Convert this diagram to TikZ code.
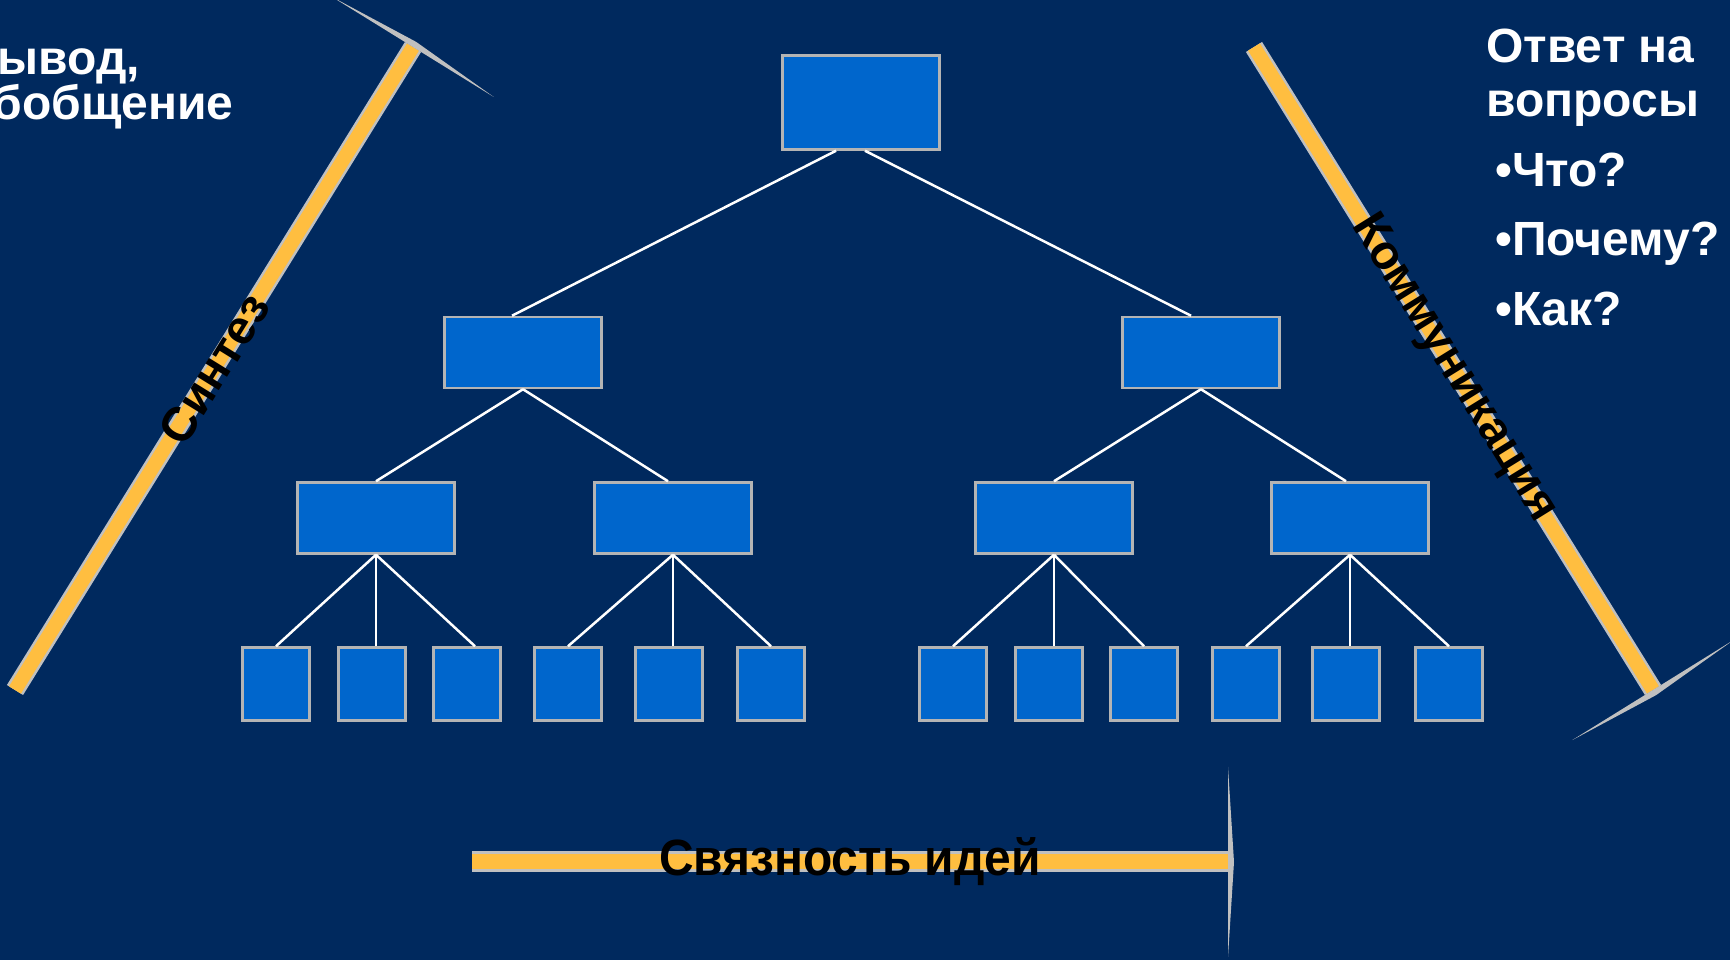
\documentclass[tikz,border=0pt]{standalone}
\usepackage{fontspec}
\setmainfont{Liberation Sans}
\usepackage{tikz}
\usetikzlibrary{positioning,calc}

\definecolor{bgblue}{RGB}{0,41,94}
\definecolor{boxfill}{RGB}{0,102,204}
\definecolor{boxline}{RGB}{180,180,180}
\definecolor{barfill}{RGB}{255,190,64}
\definecolor{barline}{RGB}{192,192,192}

\begin{document}
\begin{tikzpicture}[x=1pt, y=1pt,
    box/.style={rectangle, draw=boxline, fill=boxfill, line width=2.5pt, minimum width=157pt, minimum height=71pt, inner sep=0pt},
    leaf/.style={box, minimum width=67pt, minimum height=73pt},
    link/.style={draw=white, line width=2.5pt},
    bar/.style={draw=barfill, line width=14pt, preaction={draw=barline, line width=19pt}},
    barhead/.style={fill=barline},
    barlabel/.style={font=\fontsize{48}{52}\selectfont\bfseries, text=black, inner sep=0pt},
    note/.style={font=\fontsize{48}{54}\selectfont\bfseries, text=white, inner sep=0pt, anchor=base west}]

    % Background
    \fill[bgblue] (0,0) rectangle (1730,960);
    \useasboundingbox (0,0) rectangle (1730,960);
    \clip (0,0) rectangle (1730,960);

    % Top of the tree
    \node[box, minimum height=94pt] (top) at (861,857.5) {};

    % Second level
    \node[box] (mida) at (523,607.5) {};
    \node[box] (midb) at (1201,607.5) {};

    % Third level
    \node[box] (lowa) at (376,442) {};
    \node[box] (lowb) at (673,442) {};
    \node[box] (lowc) at (1054,442) {};
    \node[box] (lowd) at (1350,442) {};

    % Leaves
    \node[leaf] (leafa) at (276,276) {};
    \node[leaf] (leafb) at (372,276) {};
    \node[leaf] (leafc) at (467,276) {};
    \node[leaf] (leafd) at (568,276) {};
    \node[leaf] (leafe) at (669,276) {};
    \node[leaf] (leaff) at (771,276) {};
    \node[leaf] (leafg) at (953,276) {};
    \node[leaf] (leafh) at (1049,276) {};
    \node[leaf] (leafi) at (1144,276) {};
    \node[leaf] (leafj) at (1246,276) {};
    \node[leaf] (leafk) at (1346,276) {};
    \node[leaf] (leafl) at (1449,276) {};

    % Tree links
    \draw[link] ([xshift=-25pt]top.south) -- ([xshift=-11pt]mida.north);
    \draw[link] ([xshift=4pt]top.south) -- ([xshift=-10pt]midb.north);
    \draw[link] (mida.south) -- (lowa.north);
    \draw[link] (mida.south) -- ([xshift=-5pt]lowb.north);
    \draw[link] (midb.south) -- (lowc.north);
    \draw[link] (midb.south) -- ([xshift=-4pt]lowd.north);
    \draw[link] (lowa.south) -- (leafa.north);
    \draw[link] (lowa.south) -- (lowa.south |- leafb.north);
    \draw[link] (lowa.south) -- ([xshift=8pt]leafc.north);
    \draw[link] (lowb.south) -- (leafd.north);
    \draw[link] (lowb.south) -- (lowb.south |- leafe.north);
    \draw[link] (lowb.south) -- (leaff.north);
    \draw[link] (lowc.south) -- (leafg.north);
    \draw[link] (lowc.south) -- (lowc.south |- leafh.north);
    \draw[link] (lowc.south) -- (leafi.north);
    \draw[link] (lowd.south) -- (leafj.north);
    \draw[link] (lowd.south) -- (lowd.south |- leafk.north);
    \draw[link] (lowd.south) -- (leafl.north);

    % Synthesis bar
    \coordinate (synfoot) at (15,270);
    \coordinate (syntip) at (413,913);
    \draw[bar] (synfoot) -- (syntip);
    \fill[barhead] ($(syntip)!95pt!90:(synfoot)$) -- ($(syntip)!-6pt!(synfoot)$) -- ($(syntip)!95pt!-90:(synfoot)$) -- cycle;
    \path (synfoot) -- (syntip) node[midway, sloped, barlabel] (syntext) {Синтез};

    % Communication bar
    \coordinate (comtop) at (1254,913);
    \coordinate (comtip) at (1653,270);
    \draw[bar] (comtop) -- (comtip);
    \fill[barhead] ($(comtip)!95pt!90:(comtop)$) -- ($(comtip)!-6pt!(comtop)$) -- ($(comtip)!95pt!-90:(comtop)$) -- cycle;
    \path (comtop) -- (comtip) node[midway, sloped, barlabel] (comtext) {Коммуникация};

    % Coherence bar
    \coordinate (cohfoot) at (472,98);
    \coordinate (cohtip) at (1228,98);
    \draw[bar, line width=15pt, preaction={draw=barline, line width=21pt}] (cohfoot) -- (cohtip);
    \fill[barhead] ($(cohtip)!95pt!90:(cohfoot)$) -- ($(cohtip)!-6pt!(cohfoot)$) -- ($(cohtip)!95pt!-90:(cohfoot)$) -- cycle;
    \path (cohfoot) -- (cohtip) node[midway, barlabel, font=\fontsize{51}{54}\selectfont\bfseries] (cohtext) {\scalebox{0.94}[1]{Связность идей}};

    % Notes
    \node[note] (suma) at (-37,885) {Вывод,};
    \node[note] (sumb) at (-37,840) {обобщение};
    \node[note] (ansa) at (1486,897) {Ответ на};
    \node[note] (ansb) at (1486,843) {вопросы};
    \node[note] (qwhat) at (1495,773) {•Что?};
    \node[note] (qwhy) at (1495,704) {•Почему?};
    \node[note] (qhow) at (1495,634) {•Как?};
\end{tikzpicture}
\end{document}
